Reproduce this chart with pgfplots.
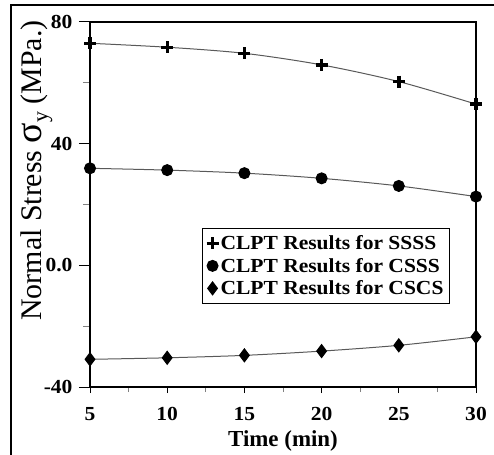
\documentclass[border=0pt]{standalone}
\usepackage{pgfplots}
\pgfplotsset{compat=1.18}
\usepackage{fontspec}
\setmainfont{Liberation Serif}
\newfontfamily\widefont[FakeStretch=1.08]{Liberation Serif}

% Normal stress vs. time for three boundary conditions
\pgfplotstableread{
t    ssss  csss  cscs
5    73.0  31.9  -30.9
10   71.7  31.3  -30.4
15   69.7  30.3  -29.6
20   65.9  28.6  -28.2
25   60.4  26.1  -26.3
30   53.0  22.6  -23.5
}\stressdata

\begin{document}
\begin{tikzpicture}
\useasboundingbox (0bp,0bp) rectangle (494bp,455bp);
\draw[line width=1.4bp] (11bp,0bp) -- (11bp,450bp) -- (494bp,450bp);

\node[rotate=90, anchor=base, font=\fontsize{30}{30}\selectfont] at (41bp,284.5bp)
  {Normal Stress {\fontsize{38}{38}\selectfont σ}\raisebox{-0.22em}{\fontsize{22}{22}\selectfont y} (MPa.)};

\begin{axis}[
  at={(90bp,68bp)}, anchor=south west,
  width=386bp, height=365bp, scale only axis,
  xmin=5, xmax=30, ymin=-40, ymax=80,
  xtick={5,10,...,30}, ytick={-40,0,40,80},
  yticklabels={-40,0.0,40,80},
  minor x tick num=1, minor y tick num=1,
  tick pos=left, tick align=outside,
  axis line style={line width=1.2bp},
  major tick length=6bp, minor tick length=5bp,
  every major tick/.append style={line width=1bp, black},
  every minor tick/.append style={line width=0.8bp, gray},
  ytick style={/pgfplots/major tick length=11bp, /pgfplots/minor tick length=7bp},
  /pgf/number format/assume math mode=true,
  tick label style={font=\widefont\bfseries\fontsize{20}{20}\selectfont},
  xticklabel style={yshift=-11bp},
  yticklabel style={xshift=-8bp},
  xlabel={\bfseries Time (min)},
  xlabel style={font=\fontsize{23}{23}\selectfont, yshift=-3bp},
  legend style={at={(axis description cs:0.290,0.4356)}, anchor=north west,
    draw=black, line width=1.2bp, inner xsep=4bp, inner ysep=5bp,
    font=\widefont\bfseries\fontsize{20}{23}\selectfont,
    row sep=3bp},
  legend cell align=left,
  legend image code/.code={\draw[only marks,#1] plot coordinates {(0bp,0bp)};},
]
\addplot[color=gray!70!black, line width=1bp, smooth, mark=+, mark size=6bp,
  mark options={black, line width=3.4bp, solid}] table[x=t, y=ssss] {\stressdata};
\addlegendentry{CLPT Results for SSSS}
\addplot[color=gray!70!black, line width=1bp, smooth, mark=*, mark size=5.5bp,
  mark options={black, fill=black, solid}] table[x=t, y=csss] {\stressdata};
\addlegendentry{CLPT Results for CSSS}
\addplot[color=gray!70!black, line width=1bp, smooth, mark=diamond*, mark size=6.5bp,
  mark options={black, fill=black, solid}] table[x=t, y=cscs] {\stressdata};
\addlegendentry{CLPT Results for CSCS}
\end{axis}
\end{tikzpicture}
\end{document}
